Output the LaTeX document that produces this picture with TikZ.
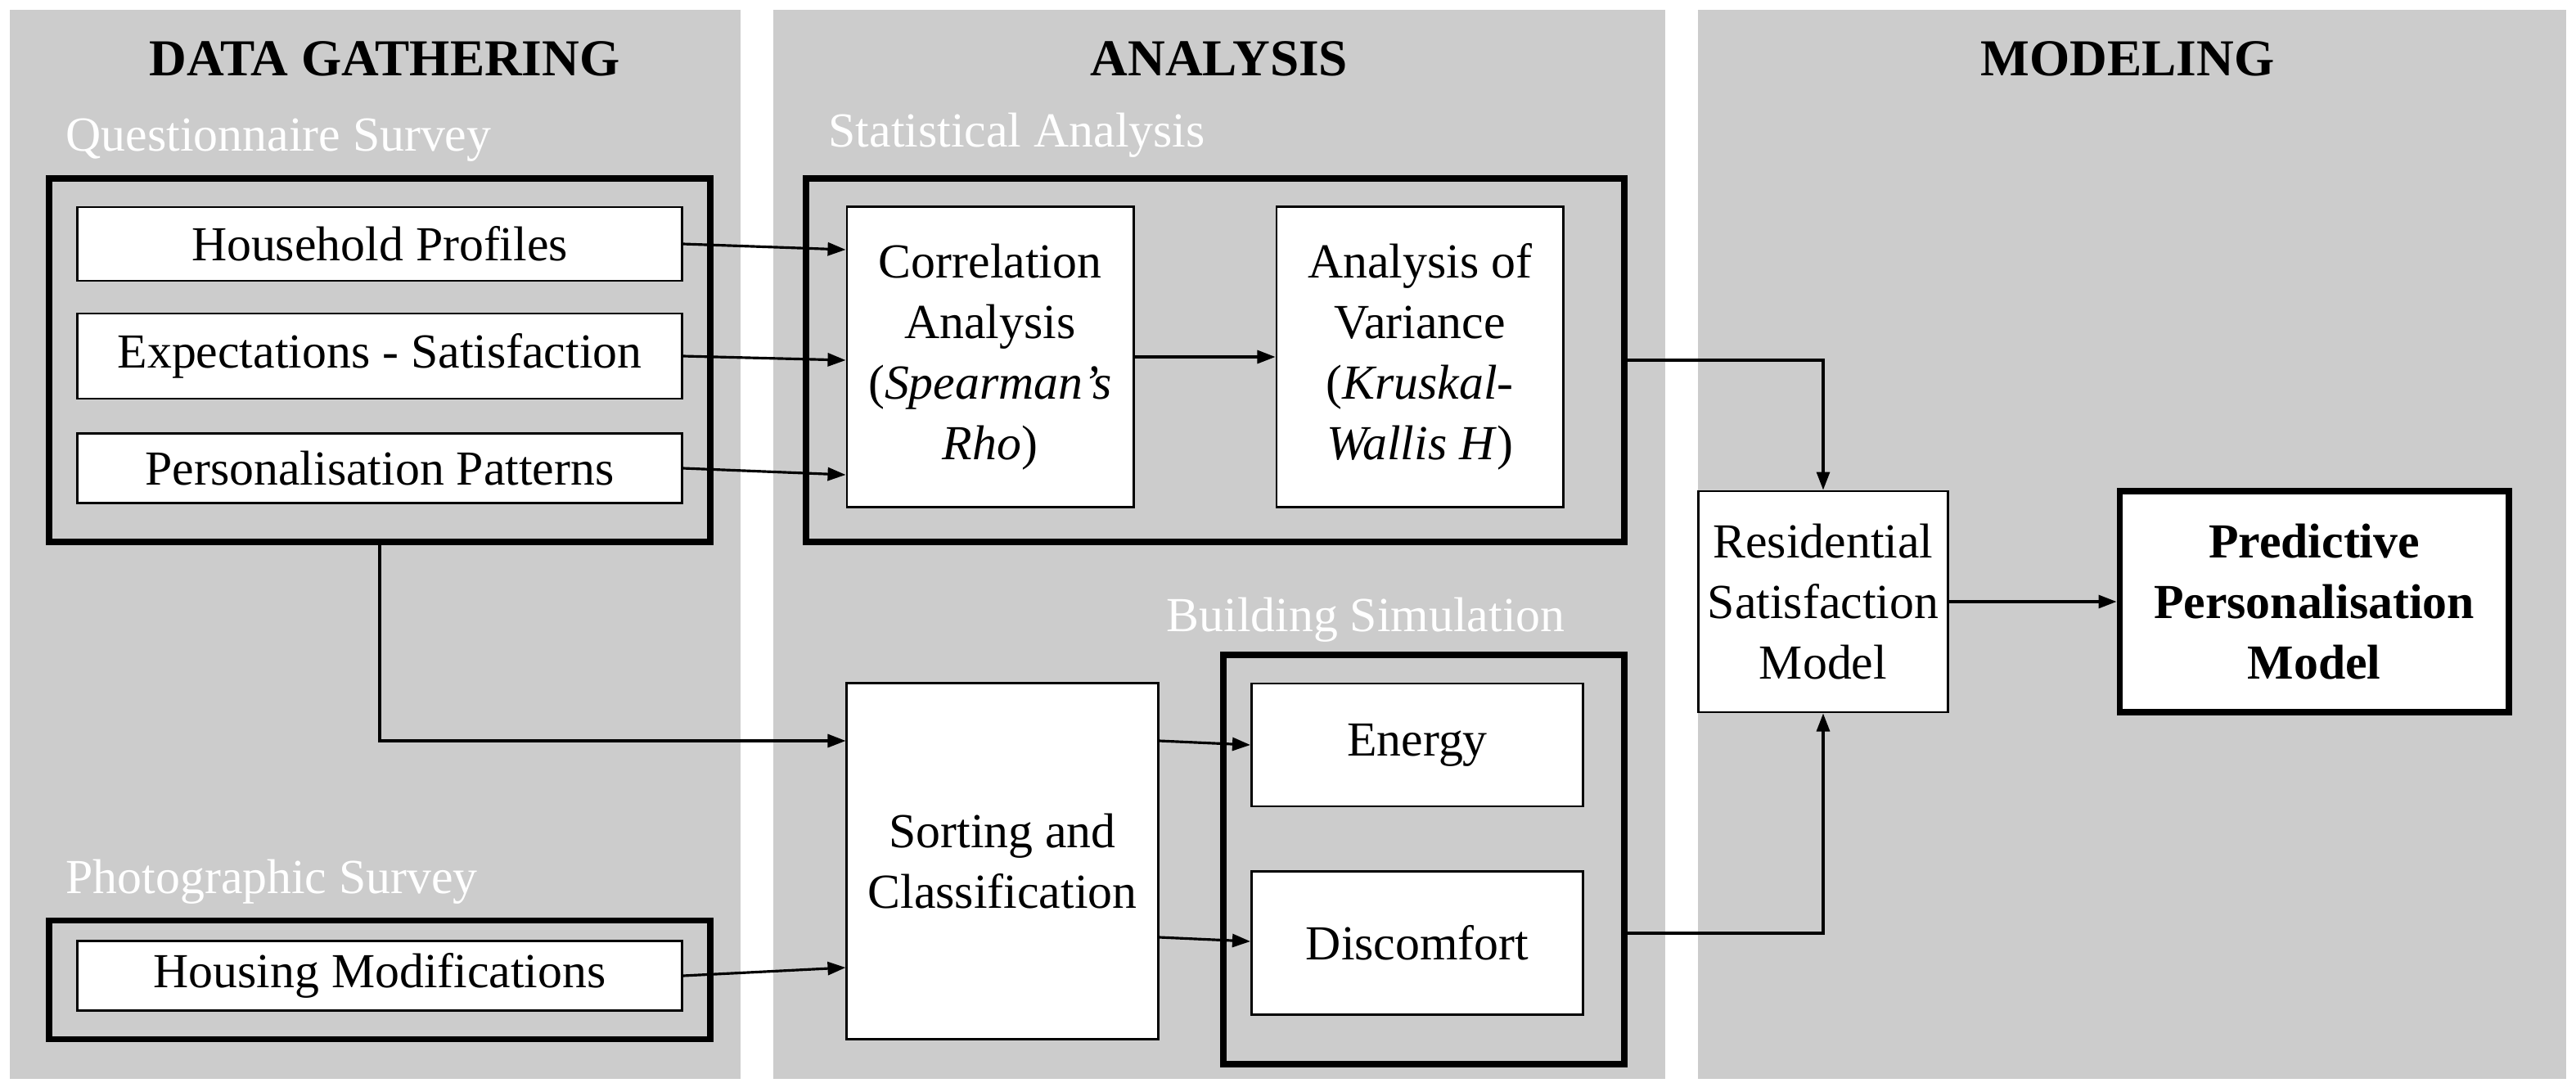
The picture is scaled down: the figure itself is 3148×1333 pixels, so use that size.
\documentclass[tikz,border=0pt]{standalone}
\usepackage{fontspec}
\setmainfont{Liberation Serif}
\usetikzlibrary{arrows.meta, positioning, calc}

\begin{document}
\begin{tikzpicture}[x=0.01cm, y=-0.01cm, >={Triangle[length=0.22cm,width=0.16cm]},
    panel/.style={fill=black!20, draw=none},
    group/.style={draw, line width=2.2pt, fill=black!20},
    box/.style={draw, fill=white, line width=0.8pt, align=center, font=\fontsize{17}{21}\selectfont, inner sep=2pt},
    head/.style={font=\fontsize{18}{22}\selectfont\bfseries},
    tag/.style={font=\fontsize{17}{21}\selectfont, text=white, anchor=south west, inner sep=0pt},
    link/.style={->, line width=0.9pt}
]
\useasboundingbox (0,0) rectangle (3148,1333);

% Panels
\fill[panel] (12,12) rectangle (905,1318);
\fill[panel] (945,12) rectangle (2035,1318);
\fill[panel] (2075,12) rectangle (3136,1318);

\node[head] (hgather) at (470,72) {DATA GATHERING};
\node[head] (hanalysis) at (1490,72) {ANALYSIS};
\node[head] (hmodel) at (2600,72) {MODELING};

% Groups
\node[group, minimum width=8.08cm, minimum height=4.44cm] (quest) at (464,440) {};
\node[group, minimum width=8.08cm, minimum height=1.45cm] (photo) at (464,1197) {};
\node[group, minimum width=10cm, minimum height=4.44cm] (stat) at (1485,440) {};
\node[group, minimum width=4.9cm, minimum height=5cm] (sim) at (1740,1050) {};

\node[tag] (tquest) at (80,198) {Questionnaire Survey};
\node[tag] (tphoto) at (80,1105) {Photographic Survey};
\node[tag] (tstat) at (1012,193) {Statistical Analysis};
\node[tag] (tsim) at (1425,785) {Building Simulation};

% Boxes
\node[box, minimum width=7.38cm, minimum height=0.9cm] (house) at (464,298) {Household Profiles};
\node[box, minimum width=7.38cm, minimum height=1.04cm] (expect) at (464,435) {Expectations - Satisfaction};
\node[box, minimum width=7.38cm, minimum height=0.85cm] (person) at (464,572) {Personalisation Patterns};
\node[box, minimum width=7.38cm, minimum height=0.85cm] (modif) at (464,1192) {Housing Modifications};
\node[box, minimum width=3.5cm, minimum height=3.67cm] (corr) at (1210,436) {Correlation\\Analysis\\(\textit{Spearman's}\\\textit{Rho})};
\node[box, minimum width=3.5cm, minimum height=3.67cm] (anova) at (1735,436) {Analysis of\\Variance\\(\textit{Kruskal-}\\\textit{Wallis H})};
\node[box, minimum width=3.8cm, minimum height=4.35cm] (sort) at (1225,1052) {Sorting and\\Classification};
\node[box, minimum width=4.05cm, minimum height=1.5cm] (energy) at (1732,910) {Energy};
\node[box, minimum width=4.05cm, minimum height=1.75cm] (discomf) at (1732,1152) {Discomfort};
\node[box, minimum width=3.05cm, minimum height=2.7cm] (resid) at (2228,735) {Residential\\Satisfaction\\Model};
\node[box, line width=2.2pt, minimum width=4.75cm, minimum height=2.7cm, font=\fontsize{17}{21}\selectfont\bfseries] (predict) at (2828,735) {Predictive\\Personalisation\\Model};

% Connections
\draw[link] (house.east) -- (corr.west |- 0,305);
\draw[link] (expect.east) -- (corr.west |- 0,440);
\draw[link] (person.east) -- (corr.west |- 0,580);
\draw[link] (corr) -- (anova);
\draw[link] (stat.east |- 0,440) -| (resid.north);
\draw[link] (quest.south) |- (sort.west |- 0,905);
\draw[link] (modif.east) -- (sort.west |- 0,1182);
\draw[link] (sort.east |- 0,905) -- (energy.west |- 0,910);
\draw[link] (sort.east |- 0,1145) -- (discomf.west |- 0,1150);
\draw[link] (sim.east |- 0,1140) -| (resid.south);
\draw[link] (resid) -- (predict);
\end{tikzpicture}
\end{document}
